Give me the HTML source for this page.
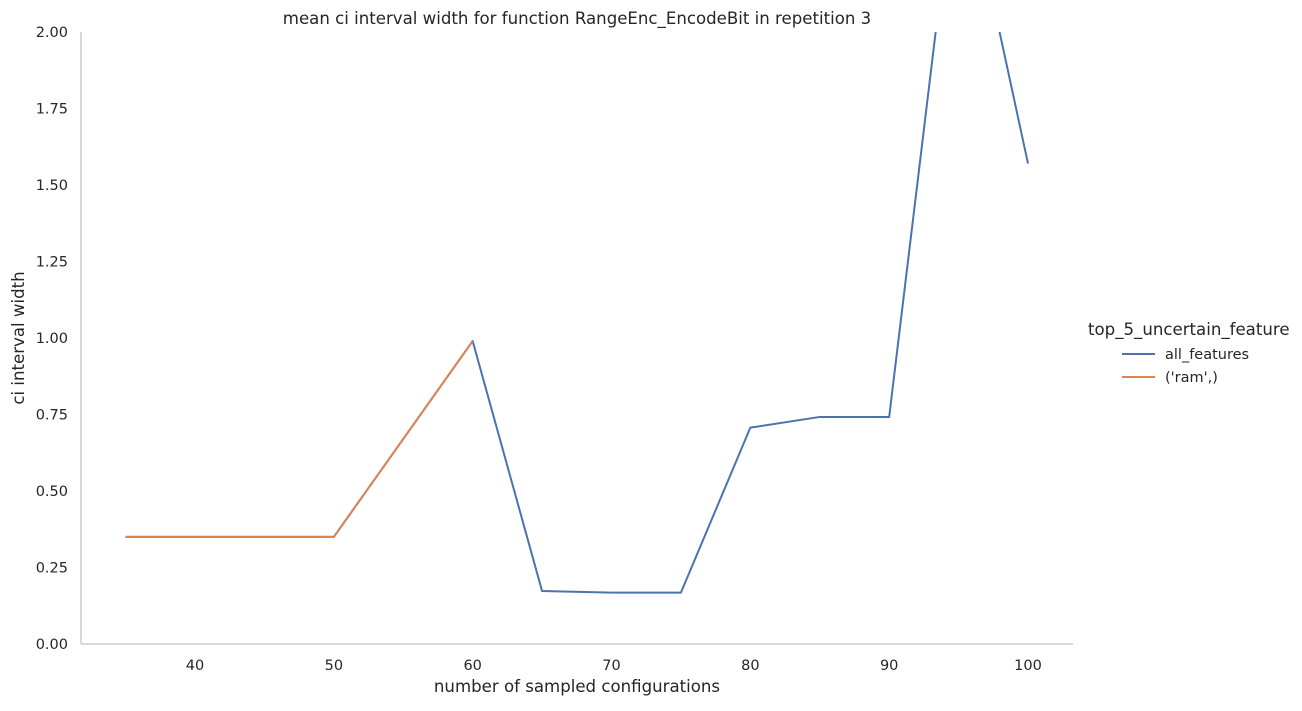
<!DOCTYPE html>
<html><head><meta charset="utf-8"><style>
body{margin:0;background:#fff;font-family:"Liberation Sans","DejaVu Sans",sans-serif;}
svg text{font-family:"DejaVu Sans","Liberation Sans",sans-serif;fill:#262626;}
</style></head><body>
<svg id="chart" width="1302" height="706">
<defs><clipPath id="clip"><rect x="81" y="32" width="992" height="612"/></clipPath></defs>
<text x="577" y="24" font-size="16.6" text-anchor="middle">mean ci interval width for function RangeEnc_EncodeBit in repetition 3</text>
<g id="axes"></g>
<g id="series" clip-path="url(#clip)"></g>
<text x="577" y="692" font-size="16.6" text-anchor="middle">number of sampled configurations</text>
<text transform="translate(24,338) rotate(-90)" font-size="16.6" text-anchor="middle">ci interval width</text>
<g>
<text x="1088" y="335" font-size="16.6">top_5_uncertain_feature</text>
<line x1="1122" y1="354" x2="1155" y2="354" stroke="#4c72b0" stroke-width="2"/>
<text x="1165" y="359" font-size="14.5">all_features</text>
<line x1="1122" y1="377" x2="1155" y2="377" stroke="#dd8452" stroke-width="2"/>
<text x="1165" y="382" font-size="14.5">('ram',)</text>
</g>
</svg>
<script>
const xTicks=[40,50,60,70,80,90,100];
const yTicks=["0.00","0.25","0.50","0.75","1.00","1.25","1.50","1.75","2.00"];
const allX=[35,40,45,50,55,60,65,70,75,80,85,90,95,100];
const allY=[0.35,0.35,0.35,0.35,0.67,0.99,0.173,0.168,0.168,0.707,0.742,0.742,2.62,1.57];
const ramX=[35,40,45,50,55,60];
const ramY=[0.35,0.35,0.35,0.35,0.67,0.99];
const NS="http://www.w3.org/2000/svg";
const xs=v=>195+(v-40)*(1028-195)/60;
const ys=v=>644-v*(644-32)/2;
const axes=document.getElementById('axes'),ser=document.getElementById('series');
function mk(t,a,p){const e=document.createElementNS(NS,t);for(const k in a)e.setAttribute(k,a[k]);p.appendChild(e);return e;}
let l=mk('line',{x1:81,y1:32,x2:81,y2:644,stroke:'#ccc','stroke-width':1.5},axes);


l=mk('line',{x1:81,y1:644,x2:1073,y2:644,stroke:'#ccc','stroke-width':1.5},axes);


xTicks.forEach(v=>{const t=mk('text',{x:xs(v),y:670,'font-size':14.5,'text-anchor':'middle'},axes);t.textContent=v;

});
yTicks.forEach(v=>{const t=mk('text',{x:68,y:ys(+v)+5,'font-size':14.5,'text-anchor':'end'},axes);t.textContent=v;

});
function line(X,Y,c,name){const p=mk('polyline',{points:X.map((x,i)=>xs(x)+','+ys(Y[i])).join(' '),fill:'none',stroke:c,'stroke-width':2,'stroke-linejoin':'round'},ser);

}
line(allX,allY,'#4c72b0','series-all-features');
line(ramX,ramY,'#dd8452','series-ram');
</script>
</body></html>
